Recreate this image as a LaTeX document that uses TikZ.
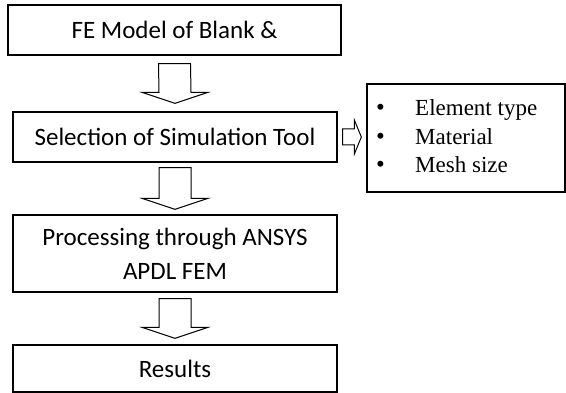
\documentclass[tikz,border=0pt]{standalone}
\usepackage{fontspec}
\setmainfont{Carlito}
\newfontfamily\listfont{Liberation Serif}
\usetikzlibrary{calc}
\tikzset{
  stage/.style={draw, line width=1.3pt, rectangle, inner sep=0pt,
    minimum width=324pt, font=\fontsize{25}{34}\selectfont, align=center},
  blockarrow/.style={draw, line width=1pt, fill=white, line join=miter},
  listitem/.style={anchor=base west, inner sep=0pt, font=\listfont\fontsize{23}{25}\selectfont}
}
\newcommand{\listmark}{\makebox[39pt][l]{\fontsize{25}{25}\selectfont •}}
\begin{document}
\begin{tikzpicture}[x=1pt, y=-1pt]
\useasboundingbox (0,0) rectangle (566,393);

% process stages
\node[stage, minimum width=333pt, minimum height=50pt] (fe)  at (174.5,30)  {FE Model of Blank \&};
\node[stage, minimum height=50pt] (sel) at (175,137)   {Selection of Simulation Tool};
\node[stage, minimum height=77pt] (proc) at (175,253.5) {Processing through ANSYS\\APDL FEM};
\node[stage, minimum height=47pt] (res) at (175,368.5) {Results};

% parameter box
\node[draw, line width=1.3pt, rectangle, minimum width=198pt, minimum height=108pt, inner sep=0pt] (par) at (466,138) {};
\node[listitem] (p1) at (376,116) {\listmark Element type};
\node[listitem] (p2) at (376,145) {\listmark Material};
\node[listitem] (p3) at (376,173) {\listmark Mesh size};

% hollow block arrows pointing down between stages
\foreach \a/\b/\g in {fe/sel/8, sel/proc/5, proc/res/6}{
  \draw[blockarrow]
    let \p1=(\a.south), \p2=(\b.north) in
    ($(\x1,\y1)+(-16,\g)$) -- ($(\x2,\y2)+(-16,-\g-11)$) -- ($(\x2,\y2)+(-33,-\g-11)$)
    -- ($(\x2,\y2)+(0,-\g)$) -- ($(\x2,\y2)+(33,-\g-11)$) -- ($(\x2,\y2)+(16,-\g-11)$)
    -- ($(\x1,\y1)+(16,\g)$) -- cycle;
}

% hollow block arrow pointing right to the parameter box
\draw[blockarrow]
  let \p1=(sel.east), \p2=(par.west) in
  ($(\x1,\y1)+(5,-8)$) -- ($(\x2,\y1)+(-12,-8)$) -- ($(\x2,\y1)+(-12,-17)$)
  -- ($(\x2,\y1)+(-5,0)$) -- ($(\x2,\y1)+(-12,17)$) -- ($(\x2,\y1)+(-12,8)$)
  -- ($(\x1,\y1)+(5,8)$) -- cycle;
\end{tikzpicture}
\end{document}
